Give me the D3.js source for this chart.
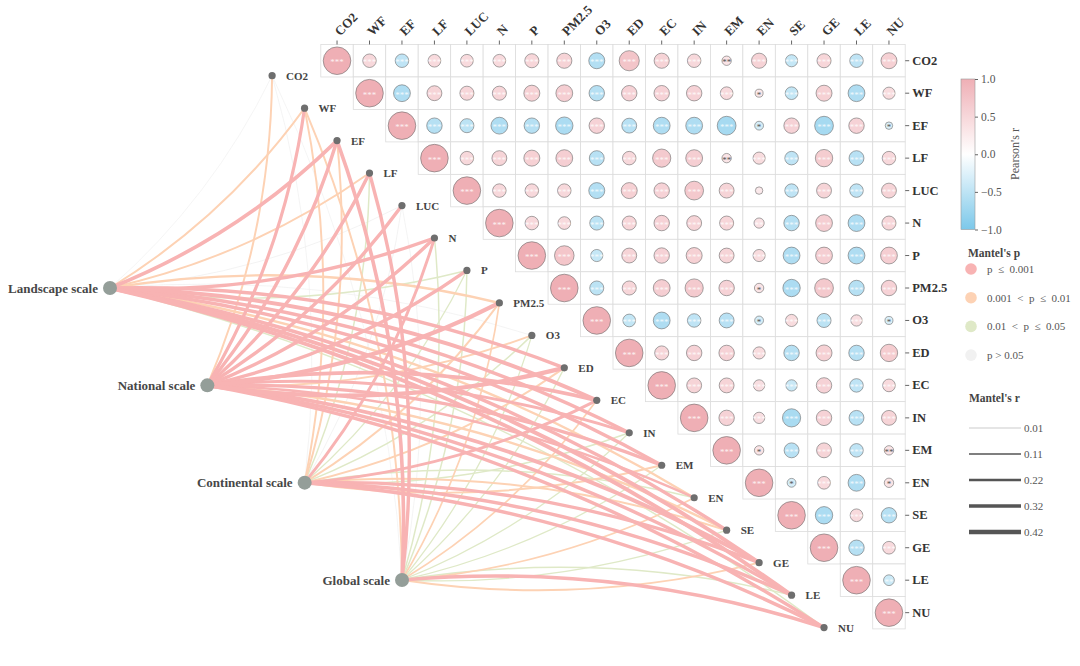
<!DOCTYPE html>
<html><head><meta charset="utf-8">
<script src="https://cdn.jsdelivr.net/npm/d3@7"></script>
<style>
body{margin:0;background:#fff}
svg{display:block}
text{font-family:"Liberation Serif","Times New Roman",serif}
</style>
</head><body>
<svg id="c" width="1080" height="666"></svg>
<script>
// ---------- DATA ----------
const vars = ["CO2","WF","EF","LF","LUC","N","P","PM2.5","O3","ED","EC","IN","EM","EN","SE","GE","LE","NU"];
// Pearson's r, upper triangle: row i holds columns i+1 .. end
const corrRows = [
 [0.49,-0.49,0.46,0.46,0.46,0.51,0.55,-0.58,0.73,0.55,0.49,0.34,0.55,-0.44,0.51,-0.49,0.58],
 [-0.61,0.54,0.51,0.51,0.58,0.61,-0.56,0.56,0.56,0.56,0.46,0.29,-0.46,0.58,-0.61,0.44],
 [-0.56,-0.51,-0.61,-0.56,-0.63,0.56,-0.54,-0.61,-0.61,-0.68,-0.32,0.56,-0.68,0.56,-0.27],
 [0.49,0.54,0.58,0.61,-0.54,0.49,0.66,0.61,0.34,0.44,-0.49,0.63,-0.54,0.49],
 [0.49,0.49,0.49,-0.58,0.58,0.56,0.68,0.54,0.27,-0.49,0.54,-0.49,0.54],
 [0.49,0.46,-0.51,0.51,0.56,0.54,0.51,0.37,-0.56,0.61,-0.61,0.51],
 [0.71,-0.44,0.54,0.56,0.58,0.54,0.44,-0.61,0.61,-0.61,0.61],
 [-0.51,0.51,0.61,0.66,0.56,0.34,-0.63,0.68,-0.56,0.56],
 [-0.46,-0.61,-0.49,-0.54,-0.32,0.44,-0.51,0.41,-0.29],
 [0.51,0.56,0.56,0.44,-0.56,0.58,-0.56,0.63],
 [0.54,0.54,0.41,-0.41,0.56,-0.49,0.46],
 [0.56,0.41,-0.66,0.56,-0.54,0.54],
 [0.34,-0.54,0.54,-0.49,0.34],
 [-0.32,0.46,-0.61,0.34],
 [-0.63,0.46,-0.56],
 [-0.56,0.46],
 [-0.39]
];
// significance stars (count) for the same cells
const starRows = [
 [3,3,3,3,3,3,3,3,3,3,3,2,3,3,3,3,3],
 [3,3,3,3,3,3,3,3,3,3,3,1,3,3,3,3],
 [3,3,3,3,3,3,3,3,3,3,1,3,3,3,1],
 [3,3,3,3,3,3,3,3,2,3,3,3,3,3],
 [3,3,3,3,3,3,3,3,0,3,3,3,3],
 [3,3,3,3,3,3,3,2,3,3,3,3],
 [3,3,3,3,3,3,3,3,3,3,3],
 [3,3,3,3,3,1,3,3,3,3],
 [3,3,3,3,1,3,3,3,1],
 [3,3,3,3,3,3,3,3],
 [3,3,3,3,3,3,3],
 [3,3,3,3,3,3],
 [1,3,3,3,2],
 [1,3,3,1],
 [3,3,3],
 [3,3],
 [2]
];
const scales = ["Landscape scale","National scale","Continental scale","Global scale"];
// Mantel's r for each scale, per variable (order of vars)
const mantelR = [
 [0.02,0.15,0.32,0.15,0.04,0.30,0.10,0.20,0.03,0.30,0.35,0.30,0.30,0.20,0.30,0.35,0.35,0.10],
 [0.15,0.28,0.30,0.30,0.30,0.30,0.30,0.38,0.15,0.38,0.35,0.25,0.30,0.20,0.20,0.35,0.30,0.30],
 [0.03,0.15,0.15,0.10,0.04,0.25,0.08,0.15,0.10,0.15,0.25,0.10,0.15,0.10,0.15,0.30,0.30,0.30],
 [0.02,0.15,0.32,0.30,0.03,0.10,0.10,0.12,0.08,0.08,0.12,0.08,0.08,0.12,0.08,0.15,0.10,0.32]
];
// Mantel's p for each scale, per variable
const mantelP = [
 [0.3,0.005,0.0005,0.005,0.2,0.0005,0.03,0.005,0.4,0.0005,0.0005,0.0005,0.0005,0.005,0.0005,0.0005,0.0005,0.03],
 [0.005,0.0005,0.0005,0.0005,0.0005,0.0005,0.0005,0.0005,0.005,0.0005,0.0005,0.0005,0.0005,0.0005,0.005,0.0005,0.0005,0.0005],
 [0.2,0.005,0.005,0.03,0.3,0.0005,0.03,0.005,0.03,0.005,0.0005,0.03,0.005,0.03,0.005,0.0005,0.0005,0.0005],
 [0.5,0.005,0.0005,0.0005,0.3,0.03,0.03,0.005,0.03,0.03,0.005,0.03,0.03,0.005,0.03,0.005,0.03,0.0005]
];
const pLabels = ["p  \u2264  0.001","0.001  <  p  \u2264  0.01","0.01  <  p  \u2264  0.05","p > 0.05"];
const rLegend = [0.01,0.11,0.22,0.32,0.42];
const cbTicks = [1.0,0.5,0.0,-0.5,-1.0];

// ---------- SCALES ----------
const svg = d3.select("#c");
const x = d3.scaleBand().domain(vars).range([320.8, 905.2]);
const y = d3.scaleBand().domain(vars).range([44.5, 628.9]);
const bw = x.bandwidth();
const cx = v => x(v) + bw/2, cy = v => y(v) + bw/2;
const color = d3.scaleLinear().domain([-1,0,1]).range(["#7cc8ea","#ffffff","#efafb5"]);
const rad = d3.scaleLinear().domain([0,1]).range([0,13.8]);
const pColor = d3.scaleThreshold().domain([0.001,0.01,0.05]).range(["#f8b3b3","#fdd2b4","#dfe9c7","#f1f1f1"]);
const wScale = d3.scaleLinear().domain([0.01,0.42]).range([0.6,4.6]);
const nodeX = v => cx(v) - 2*bw, nodeY = v => cy(v) + bw*0.46;
const sX = d3.scalePoint().domain(scales).range([110, 402]);
const sY = d3.scalePoint().domain(scales).range([288, 580]);

// ---------- LINKS ----------
const links = [];
scales.forEach((s,si) => vars.forEach((v,vi) => {
  links.push({s, v, r: mantelR[si][vi], p: mantelP[si][vi]});
}));
const cat = d => d.p < 0.001 ? 3 : d.p < 0.01 ? 2 : d.p < 0.05 ? 1 : 0;
links.sort((a,b) => cat(a) - cat(b) || a.r - b.r);
function curve(d){
  const x0 = sX(d.s), y0 = sY(d.s), x1 = nodeX(d.v), y1 = nodeY(d.v);
  const dx = x1-x0, dy = y1-y0, L = Math.hypot(dx,dy);
  const nx = -dy/L, ny = dx/L;
  const sign = y1 > y0 ? -1 : 1;
  const k = 0.1*L*sign;
  const mx = (x0+x1)/2 + nx*k, my = (y0+y1)/2 + ny*k;
  return `M${x0},${y0}Q${mx},${my} ${x1},${y1}`;
}
svg.append("g").selectAll("path").data(links).join("path")
  .attr("d", curve).attr("fill","none")
  .attr("stroke", d => pColor(d.p))
  .attr("stroke-width", d => wScale(d.r))
  .attr("stroke-linecap","round");

// ---------- MATRIX ----------
const cells = [];
vars.forEach((a,i) => vars.forEach((b,j) => {
  if (j < i) return;
  const r = i===j ? 1 : corrRows[i][j-i-1];
  const s = i===j ? 3 : starRows[i][j-i-1];
  cells.push({a,b,r,s});
}));
const gm = svg.append("g");
gm.selectAll("rect").data(cells).join("rect")
  .attr("x", d => x(d.b)).attr("y", d => y(d.a))
  .attr("width", bw).attr("height", bw)
  .attr("fill","#fff").attr("stroke","#dcdcdc").attr("stroke-width",0.8);
gm.selectAll("circle").data(cells).join("circle")
  .attr("cx", d => cx(d.b)).attr("cy", d => cy(d.a))
  .attr("r", d => rad(Math.abs(d.r)))
  .attr("fill", d => color(d.r))
  .attr("stroke","#6b6b6b").attr("stroke-width",0.6);
gm.selectAll("text").data(cells.filter(d => d.s > 0)).join("text")
  .attr("x", d => cx(d.b)).attr("y", d => cy(d.a) + 4.6)
  .attr("text-anchor","middle").attr("font-size", 9)
  .attr("fill", d => Math.abs(d.r) > 0.36 ? "#ffffff" : "#555")
  .attr("fill-opacity", d => Math.abs(d.r) > 0.36 ? 0.85 : 1)
  .text(d => "*".repeat(d.s));

// axes
const ax = svg.append("g").attr("transform", `translate(0,${y.range()[0]})`)
  .call(d3.axisTop(x).tickSize(4).tickSizeOuter(0));
ax.select(".domain").remove();
ax.selectAll(".tick line").attr("stroke","#666");
ax.selectAll(".tick text")
  .attr("font-family","'Liberation Serif',serif").attr("font-weight","bold")
  .attr("font-size",13).attr("fill","#333")
  .attr("text-anchor","start").attr("x",0).attr("y",0).attr("dy",0)
  .attr("transform","translate(3,-8) rotate(-45)");
const ay = svg.append("g").attr("transform", `translate(${x.range()[1]},0)`)
  .call(d3.axisRight(y).tickSize(4).tickSizeOuter(0).tickPadding(3));
ay.select(".domain").remove();
ay.selectAll(".tick line").attr("stroke","#666");
ay.selectAll(".tick text")
  .attr("font-family","'Liberation Serif',serif").attr("font-weight","bold")
  .attr("font-size",12.5).attr("fill","#333");

// ---------- NODES ----------
const gn = svg.append("g");
gn.selectAll("circle").data(vars).join("circle")
  .attr("cx", nodeX).attr("cy", nodeY).attr("r",3.6).attr("fill","#6e6e6e");
gn.selectAll("text").data(vars).join("text")
  .attr("x", v => nodeX(v) + 14).attr("y", v => nodeY(v) + 4)
  .attr("font-weight","bold").attr("font-size",11).attr("fill","#444")
  .text(v => v);
const gs = svg.append("g");
gs.selectAll("circle").data(scales).join("circle")
  .attr("cx", sX).attr("cy", sY).attr("r",7).attr("fill","#949e99");
gs.selectAll("text").data(scales).join("text")
  .attr("x", s => sX(s) - 12).attr("y", s => sY(s) + 4.5)
  .attr("text-anchor","end").attr("font-weight","bold").attr("font-size",13).attr("fill","#474747")
  .text(s => s);

// ---------- COLORBAR ----------
const defs = svg.append("defs");
const grad = defs.append("linearGradient").attr("id","cb").attr("x1",0).attr("x2",0).attr("y1",1).attr("y2",0);
d3.range(0,1.0001,0.1).forEach(t => grad.append("stop").attr("offset",t).attr("stop-color", color(-1+2*t)));
const cbY = d3.scaleLinear().domain([-1,1]).range([229.5,79]);
svg.append("rect").attr("x",961).attr("y",cbY(1)).attr("width",14).attr("height",cbY(-1)-cbY(1))
  .attr("fill","url(#cb)").attr("stroke","#999").attr("stroke-width",0.6);
const cbg = svg.append("g").attr("transform","translate(975,0)")
  .call(d3.axisRight(cbY).tickValues(cbTicks).tickSize(3).tickFormat(d3.format(".1f")));
cbg.select(".domain").remove();
cbg.selectAll(".tick line").attr("stroke","#666");
cbg.selectAll(".tick text").attr("font-family","'Liberation Serif',serif")
  .attr("font-size",11.5).attr("fill","#555").attr("x",6);
svg.append("text").attr("transform","translate(1019,154) rotate(-90)")
  .attr("text-anchor","middle").attr("font-size",12).attr("fill","#555").text("Pearson's r");

// ---------- MANTEL'S p LEGEND ----------
svg.append("text").attr("x",968).attr("y",257).attr("font-weight","bold").attr("font-size",11.5)
  .attr("fill","#444").text("Mantel's p");
const pl = svg.append("g").selectAll("g").data(pLabels).join("g")
  .attr("transform",(d,i) => `translate(971,${269 + i*28.7})`);
pl.append("circle").attr("r",5.8).attr("fill",(d,i) => pColor.range()[i]);
pl.append("text").attr("x",16).attr("y",4).attr("font-size",11).attr("fill","#555")
  .attr("xml:space","preserve").style("white-space","pre").text(d => d);

// ---------- MANTEL'S r LEGEND ----------
svg.append("text").attr("x",969).attr("y",402).attr("font-weight","bold").attr("font-size",11.5)
  .attr("fill","#444").text("Mantel's r");
const rl = svg.append("g").selectAll("g").data(rLegend).join("g")
  .attr("transform",(d,i) => `translate(969,${428 + i*26})`);
rl.append("line").attr("x1",0).attr("x2",52).attr("stroke",(d,i) => i===0 ? "#aaa" : "#555")
  .attr("stroke-width", d => wScale(d));
rl.append("text").attr("x",55).attr("y",4).attr("font-size",11).attr("fill","#555").text(d => d.toFixed(2));
</script>
</body></html>
